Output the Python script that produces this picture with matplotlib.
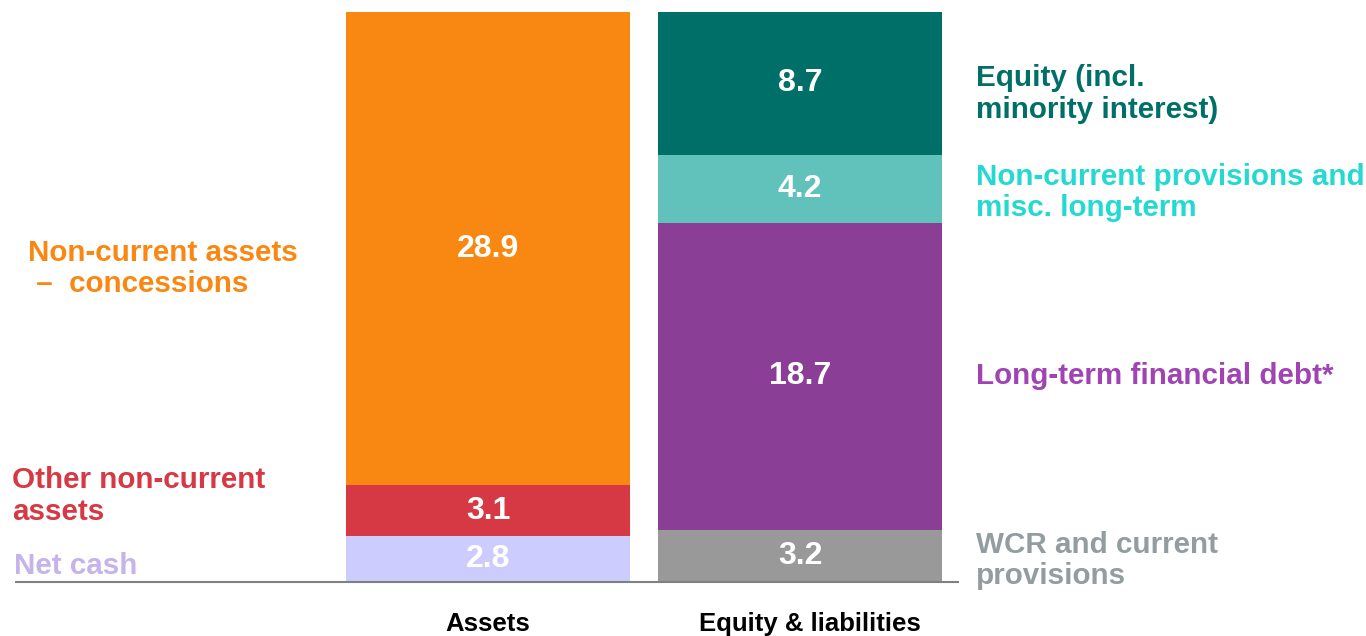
import matplotlib.pyplot as plt

plt.rcParams['font.family'] = ['Liberation Sans', 'DejaVu Sans']

# data (bn)
categories = ['Assets', 'Equity & liabilities']
asset_labels = ['Net cash', 'Other non-current\nassets', 'Non-current assets\n –  concessions']
asset_values = [2.8, 3.1, 28.9]
asset_colors = ['#CCCCFF', '#D63844', '#F98813']
asset_text_colors = ['#C5B3EA', '#D63844', '#F98813']

liab_labels = ['WCR and current\nprovisions', 'Long-term financial debt*',
               'Non-current provisions and\nmisc. long-term', 'Equity (incl.\nminority interest)']
liab_values = [3.2, 18.7, 4.2, 8.7]
liab_colors = ['#999999', '#8A3E96', '#60C2BB', '#006F68']
liab_text_colors = ['#939D9F', '#A044B4', '#23D9D2', '#006F68']

W, H = 1366, 636
fig = plt.figure(figsize=(W / 100, H / 100), dpi=100)
# axes spanning the bar region: baseline at y=582px, top of bars at y=12px
ax = fig.add_axes([0, 54 / H, 1, (582 - 12) / H])
total = sum(asset_values)
ax.set_ylim(0, total)
px = 312.0  # pixels per x unit
ax.set_xlim(-488 / px, (W - 488) / px)
ax.axis('off')

bar_w = 284 / px
x_pos = [0, 1]


def stack(x, values, colors):
    bottom = 0
    mids = []
    for v, c in zip(values, colors):
        ax.bar(x, v, bottom=bottom, width=bar_w, color=c, edgecolor='none')
        mids.append(bottom + v / 2)
        ax.text(x, bottom + v / 2, f'{v:.1f}', ha='center', va='center',
                color='white', fontsize=23, fontweight='bold')
        bottom += v
    return mids


a_mids = stack(x_pos[0], asset_values, asset_colors)
l_mids = stack(x_pos[1], liab_values, liab_colors)

# baseline
ax.plot([(15 - 488) / px, (959 - 488) / px], [0, 0], color='#808080', lw=1.5,
        clip_on=False, solid_capstyle='butt')

# left labels
left_y = [a_mids[0] - 0.45, a_mids[1] + 0.9, a_mids[2] - 1.2]
left_x = [14, 12, 28]
for lab, yv, xp, c in zip(asset_labels, left_y, left_x, asset_text_colors):
    ax.text((xp - 488) / px, yv, lab, ha='left', va='center', color=c,
            fontsize=21.3, fontweight='bold', linespacing=1.15, clip_on=False)

# right labels
right_y = [l_mids[0] - 0.3, l_mids[1], l_mids[2] - 0.2, l_mids[3] - 0.65]
for lab, yv, c in zip(liab_labels, right_y, liab_text_colors):
    ax.text((976 - 488) / px, yv, lab, ha='left', va='center', color=c,
            fontsize=21.3, fontweight='bold', linespacing=1.15, clip_on=False)

# category labels
for x, cat in zip(x_pos, categories):
    fig.text(ax.transData.transform((x, 0))[0] / W + (0.007 if x else 0), 12 / H, cat,
             ha='center', va='center', fontsize=18.5, fontweight='bold', color='black')

fig.savefig('out.png', dpi=100)
